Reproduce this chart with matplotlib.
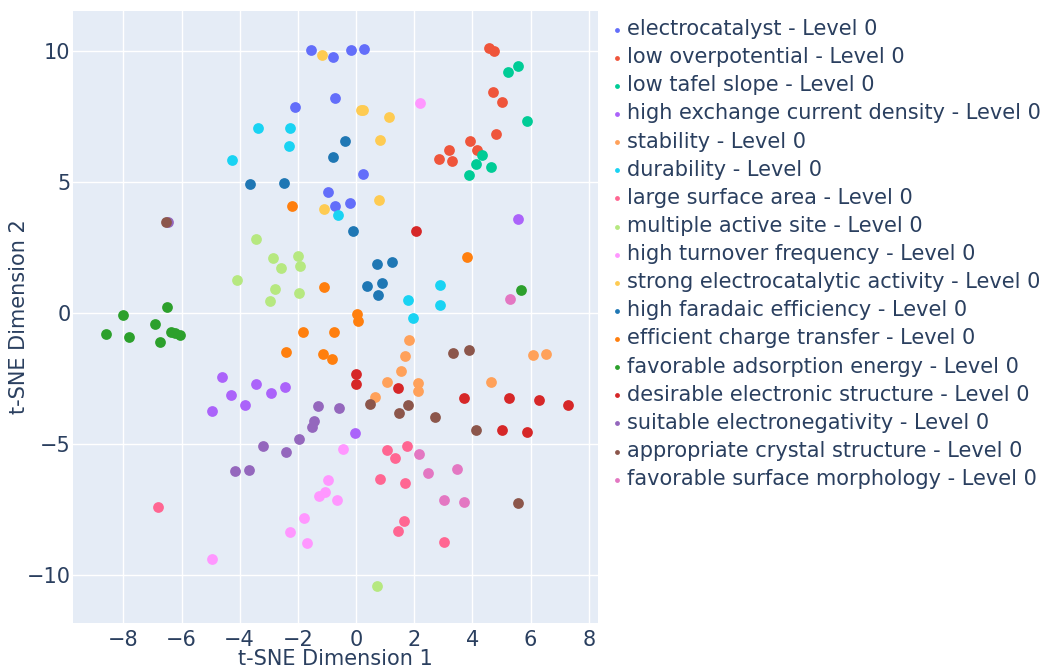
import matplotlib.pyplot as plt

# categories and colours (plotly + d3 palettes)
categories = [
    "electrocatalyst", "low overpotential", "low tafel slope",
    "high exchange current density", "stability", "durability",
    "large surface area", "multiple active site", "high turnover frequency",
    "strong electrocatalytic activity", "high faradaic efficiency",
    "efficient charge transfer", "favorable adsorption energy",
    "desirable electronic structure", "suitable electronegativity",
    "appropriate crystal structure", "favorable surface morphology",
]
colors = [
    "#636EFA", "#EF553B", "#00CC96", "#AB63FA", "#FFA15A", "#19D3F3",
    "#FF6692", "#B6E880", "#FF97FF", "#FECB52", "#1F77B4", "#FF7F0E",
    "#2CA02C", "#D62728", "#9467BD", "#8C564B", "#E377C2",
]

# t-SNE coordinates, one list pair per category
electrocatalyst_x = [-1.55, -0.79, -0.18, 0.26, -0.72, -2.10, -0.95, -0.72, -0.19, 0.24]
electrocatalyst_y = [10.03, 9.78, 10.05, 10.06, 8.19, 7.86, 4.60, 4.09, 4.21, 5.30]

overpotential_x = [4.56, 4.74, 4.71, 5.02, 4.80, 3.92, 4.15, 3.20, 2.84, 3.30]
overpotential_y = [10.09, 9.98, 8.42, 8.04, 6.83, 6.56, 6.21, 6.21, 5.87, 5.79]

tafel_x = [5.21, 5.58, 5.89, 4.33, 4.11, 4.63, 3.90]
tafel_y = [9.19, 9.41, 7.31, 6.01, 5.68, 5.58, 5.27]

exchange_x = [5.56, -4.62, -3.43, -4.29, -2.92, -2.45, -3.83, -4.95, -0.02]
exchange_y = [3.58, -2.45, -2.73, -3.15, -3.05, -2.84, -3.53, -3.76, -4.57]

stability_x = [1.82, 1.67, 1.56, 1.07, 2.14, 2.12, 0.66, 6.08, 6.53, 4.65]
stability_y = [-1.05, -1.63, -2.22, -2.64, -2.68, -2.98, -3.21, -1.60, -1.57, -2.63]

durability_x = [-3.36, -2.28, -2.29, -4.27, -0.62, 2.88, 1.80, 2.88, 1.95]
durability_y = [7.07, 7.05, 6.38, 5.84, 3.72, 1.05, 0.49, 0.30, -0.21]

surface_x = [-6.80, 1.05, 1.75, 1.34, 0.83, 1.67, 1.65, 1.43, 3.01]
surface_y = [-7.43, -5.22, -5.07, -5.55, -6.33, -6.48, -7.93, -8.34, -8.76]

active_x = [-3.44, -2.84, -2.00, -2.57, -1.94, -4.09, -2.80, -1.97, -2.96, 0.71]
active_y = [2.81, 2.11, 2.18, 1.70, 1.80, 1.26, 0.92, 0.77, 0.44, -10.44]

turnover_x = [2.19, -0.44, -0.97, -1.05, -1.28, -0.65, -1.80, -2.26, -1.68, -4.95]
turnover_y = [8.00, -5.21, -6.38, -6.85, -6.99, -7.15, -7.83, -8.36, -8.77, -9.39]

activity_x = [-1.18, 0.18, 0.25, 1.12, 0.83, 0.80, -1.10]
activity_y = [9.84, 7.73, 7.73, 7.49, 6.59, 4.30, 3.97]

faradaic_x = [-0.78, -0.37, -3.63, -2.49, -0.10, 0.72, 1.24, 0.39, 0.91, 0.77]
faradaic_y = [5.96, 6.57, 4.92, 4.95, 3.13, 1.88, 1.93, 1.03, 1.13, 0.67]

charge_x = [-2.21, 3.82, -1.11, 0.05, 0.07, -1.83, -0.75, -2.41, -1.13, -0.81]
charge_y = [4.09, 2.12, 1.00, -0.05, -0.32, -0.72, -0.72, -1.50, -1.57, -1.76]

adsorption_x = [-6.50, -8.00, -6.90, -8.58, -7.81, -6.35, -6.22, -6.06, -6.73, 5.66]
adsorption_y = [0.23, -0.07, -0.42, -0.79, -0.93, -0.72, -0.76, -0.83, -1.10, 0.87]

electronic_x = [2.07, -0.01, -0.01, 1.45, 3.70, 5.27, 6.29, 7.29, 5.03, 5.88]
electronic_y = [3.14, -2.34, -2.73, -2.88, -3.24, -3.26, -3.31, -3.53, -4.47, -4.56]

electroneg_x = [-6.45, -1.32, -0.57, -1.45, -1.51, -1.95, -3.19, -2.42, -4.15, -3.67]
electroneg_y = [3.48, -3.55, -3.64, -4.14, -4.37, -4.80, -5.09, -5.30, -6.03, -6.01]

crystal_x = [-6.54, 3.33, 3.90, 0.49, 1.47, 1.78, 2.72, 4.11, 5.58]
crystal_y = [3.48, -1.54, -1.40, -3.49, -3.81, -3.53, -3.96, -4.48, -7.24]

morphology_x = [5.28, 2.18, 2.46, 3.48, 3.04, 3.70]
morphology_y = [0.52, -5.40, -6.10, -5.97, -7.14, -7.23]

series = [
    (electrocatalyst_x, electrocatalyst_y), (overpotential_x, overpotential_y),
    (tafel_x, tafel_y), (exchange_x, exchange_y), (stability_x, stability_y),
    (durability_x, durability_y), (surface_x, surface_y), (active_x, active_y),
    (turnover_x, turnover_y), (activity_x, activity_y), (faradaic_x, faradaic_y),
    (charge_x, charge_y), (adsorption_x, adsorption_y),
    (electronic_x, electronic_y), (electroneg_x, electroneg_y),
    (crystal_x, crystal_y), (morphology_x, morphology_y),
]

x_ticks = [-8, -6, -4, -2, 0, 2, 4, 6, 8]
y_ticks = [-10, -5, 0, 5, 10]

text_color = "#2a3f5f"
plt.rcParams["font.family"] = ["DejaVu Sans"]

fig = plt.figure(figsize=(10.46, 6.71), dpi=100)
ax = fig.add_axes([0.0701, 0.0715, 0.5016, 0.9121])
ax.set_facecolor("#E5ECF6")

for name, col, (xs, ys) in zip(categories, colors, series):
    ax.scatter(xs, ys, s=60, color=col, linewidths=0, zorder=3,
               label=f"{name} - Level 0")

ax.set_xlim(-9.72, 8.32)
ax.set_ylim(-11.84, 11.52)
ax.set_xticks(x_ticks)
ax.set_yticks(y_ticks)
ax.grid(True, color="white", linewidth=1)
ax.set_axisbelow(True)
for sp in ax.spines.values():
    sp.set_visible(False)
ax.tick_params(length=0, labelsize=15, labelcolor=text_color)
ax.tick_params(axis="x", pad=5)
ax.tick_params(axis="y", pad=2)

ax.set_xlabel("t-SNE Dimension 1", fontsize=15, color=text_color, labelpad=-1)
ax.set_ylabel("t-SNE Dimension 2", fontsize=15, color=text_color, labelpad=-2)

leg = fig.legend(loc="upper left", bbox_to_anchor=(0.584, 0.9715),
                 frameon=False, fontsize=15, borderpad=0, borderaxespad=0,
                 handlelength=0.6, handletextpad=0.17, labelspacing=0.39,
                 markerscale=0.45)
for t in leg.get_texts():
    t.set_color(text_color)

fig.savefig("out.png", dpi=100)
